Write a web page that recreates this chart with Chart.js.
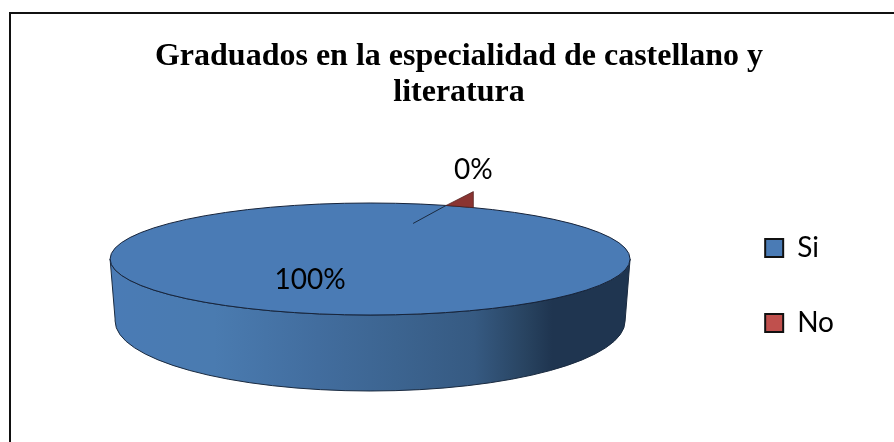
<!DOCTYPE html>
<html><head><meta charset="utf-8">
<style>html,body{margin:0;padding:0;background:#fff;overflow:hidden}
#w{position:relative;width:894px;height:442px}
#f{position:absolute;left:9px;top:12px;width:900px;height:440px;border:2px solid #111;box-sizing:border-box;pointer-events:none}
canvas{position:absolute;left:0;top:0}</style>
<script src="https://cdn.jsdelivr.net/npm/chart.js@4"></script>
</head><body><div id="w"><canvas id="c" width="894" height="442"></canvas><div id="f"></div></div>
<script>
const categories = ["Si", "No"];
const seriesValues = [100, 0];
const colours = ["#4a7bb5", "#c0504d"];
const titleLines = ["Graduados en la especialidad de castellano y", "literatura"];

const RX = 260, SQUASH = 56 / 260, LIFT = -26.5, SHIFT = -26;
const pct = v => Math.round(100 * v / seriesValues.reduce((a, b) => a + b, 0)) + "%";

const pie3d = {
  id: "pie3d",
  beforeDatasetsDraw(chart) {
    const ctx = chart.ctx, arc = chart.getDatasetMeta(0).data[0];
    const cx = arc.x + SHIFT, cy = arc.y + LIFT, ry = RX * SQUASH;
    const g = ctx.createLinearGradient(cx - RX, 0, cx + RX, 0);
    g.addColorStop(0, "#4a7bb5"); g.addColorStop(0.2, "#4a7bb0");
    g.addColorStop(0.4, "#426d9e"); g.addColorStop(0.55, "#3c6490");
    g.addColorStop(0.7, "#365a82"); g.addColorStop(0.8, "#284360");
    g.addColorStop(0.85, "#1f3550"); g.addColorStop(1, "#1f3550");
    ctx.save();
    ctx.beginPath();
    ctx.ellipse(cx, cy, RX, ry, 0, 0, Math.PI);
    ctx.lineTo(cx - RX + 5, cy + 60);
    ctx.ellipse(cx, cy + 62, RX - 5, 70, 0, Math.PI, 0, true);
    ctx.closePath();
    ctx.fillStyle = g; ctx.fill();
    ctx.strokeStyle = "#1a2a3f"; ctx.lineWidth = 1; ctx.stroke();
    ctx.restore();
    ctx.save();
    ctx.translate(cx, cy); ctx.scale(1, SQUASH); ctx.translate(-arc.x, -arc.y);
  },
  afterDatasetsDraw(chart) {
    const ctx = chart.ctx; ctx.restore();
    const meta = chart.getDatasetMeta(0), si = meta.data[0], no = meta.data[1];
    const cx = si.x + SHIFT, cy = si.y + LIFT, ry = RX * SQUASH;
    ctx.save();
    ctx.strokeStyle = "#16233a"; ctx.lineWidth = 1;
    ctx.beginPath(); ctx.ellipse(cx, cy, RX, ry, 0, 0, Math.PI * 2); ctx.stroke();
    const a = no.startAngle, b = a + 6.4 * Math.PI / 180;
    const p = t => [cx + RX * Math.cos(t), cy + ry * Math.sin(t)];
    const [x0, y0] = p(a), [x1, y1] = p(b);
    ctx.beginPath(); ctx.moveTo(x0, y0); ctx.lineTo(x1, y1 - 16); ctx.lineTo(x1, y1); ctx.closePath();
    ctx.fillStyle = "#8a3432"; ctx.fill();
    ctx.strokeStyle = "#4a1c1b"; ctx.lineWidth = .7; ctx.stroke();
    ctx.strokeStyle = "#1a2a3f"; ctx.lineWidth = 1;
    ctx.beginPath(); ctx.moveTo(x0, y0); ctx.lineTo(x0 - 33, y0 + 18); ctx.stroke();
    ctx.fillStyle = "#000"; ctx.font = "28px Lato"; ctx.textAlign = "center"; ctx.textBaseline = "middle";
    ctx.fillText(pct(seriesValues[0]), cx - 60, cy + 21);
    ctx.fillText(pct(seriesValues[1]), x1, y1 - 38);
    ctx.restore();
  }
};

new Chart(document.getElementById("c"), {
  type: "pie",
  data: { labels: categories, datasets: [{ data: seriesValues, backgroundColor: colours, borderWidth: 0 }] },
  plugins: [pie3d],
  options: {
    responsive: false, animation: false, radius: RX, rotation: 17,
    layout: { padding: { left: 74, right: 50, top: 0, bottom: 0 } },
    plugins: {
      tooltip: { enabled: false },
      title: { display: true, text: titleLines, color: "#000",
        font: { family: "'Liberation Serif'", size: 32, weight: "bold", lineHeight: 1.125 },
        padding: { top: 39, bottom: 18 } },
      legend: { position: "right", fullSize: false,
        labels: { color: "#000", font: { family: "Lato", size: 28 }, boxWidth: 18, boxHeight: 18, padding: 47,
          generateLabels(chart) {
            return Chart.overrides.pie.plugins.legend.labels.generateLabels(chart)
              .map(l => ({ ...l, strokeStyle: "#111", lineWidth: 2 }));
          } } }
    }
  }
});
</script></body></html>
